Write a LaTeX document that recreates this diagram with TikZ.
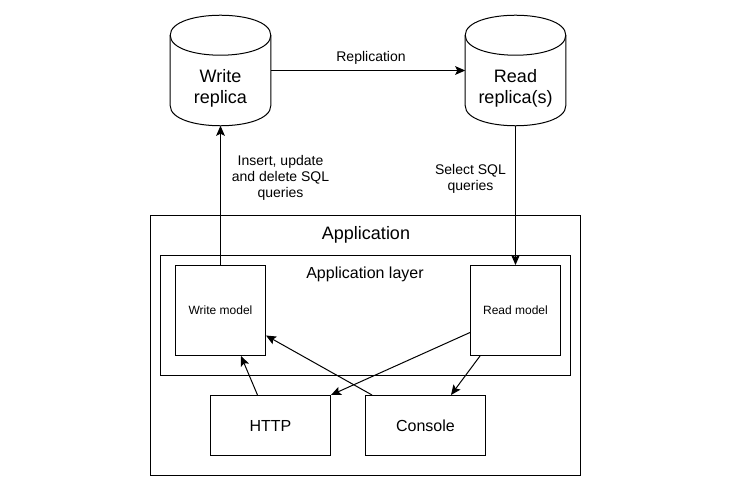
\documentclass[tikz,border=0pt]{standalone}
\usepackage{fontspec}
\setmainfont{Liberation Sans}
\usetikzlibrary{calc,positioning,arrows.meta}

\tikzset{
    box/.style={draw, rectangle, inner sep=0pt, line width=0.75pt, font=\fontsize{12}{14}\selectfont},
    replica/.style={rectangle, inner sep=0pt, minimum width=75pt, minimum height=82.5pt},
    replicatext/.style={align=center, inner sep=0pt, yshift=-13.5pt, font=\fontsize{13.5}{15.75}\selectfont},
    note/.style={align=center, inner sep=0pt, font=\fontsize{10.5}{12}\selectfont},
    link/.style={-{Stealth[length=7.5pt, width=6.5pt, inset=1.5pt]}, line width=0.75pt},
}

% outline of a replica, drawn round its node
\newcommand{\replicaoutline}[1]{
    \draw[line width=0.75pt] ($(#1.north west)+(0,20)$)
        .. controls ($(#1.north west)+(0,-6.67)$) and ($(#1.north east)+(0,-6.67)$) .. ($(#1.north east)+(0,20)$)
        -- ($(#1.south east)+(0,-20)$)
        .. controls ($(#1.south east)+(0,6.67)$) and ($(#1.south west)+(0,6.67)$) .. ($(#1.south west)+(0,-20)$)
        -- cycle;
    \draw[line width=0.75pt] ($(#1.north west)+(0,20)$)
        .. controls ($(#1.north west)+(0,46.67)$) and ($(#1.north east)+(0,46.67)$) .. ($(#1.north east)+(0,20)$);
}

\begin{document}
\begin{tikzpicture}[x=0.75pt, y=-0.75pt]

    \useasboundingbox (0,0) rectangle (731,491);

    % Containers
    \node[box, minimum width=322.5pt, minimum height=195pt] (application) at (365.5,345.5) {};
    \node[box, minimum width=307.5pt, minimum height=90pt] (layer) at (365.5,315.5) {};
    \node[font=\fontsize{13.5}{16}\selectfont, inner sep=0pt] (applicationtitle) at (366,234.5) {Application};
    \node[font=\fontsize{12}{14}\selectfont, inner sep=0pt] (layertitle) at (365,274.5) {Application layer};

    % Models
    \node[box, minimum size=67.5pt, font=\fontsize{9}{11}\selectfont] (writemodel) at (220.5,310.5) {Write model};
    \node[box, minimum size=67.5pt, font=\fontsize{9}{11}\selectfont] (readmodel) at (515.5,310.5) {Read model};

    % Entry points
    \node[box, minimum width=90pt, minimum height=45pt] (http) at (270.5,425.5) {HTTP};
    \node[box, minimum width=90pt, minimum height=45pt] (console) at (425.5,425.5) {Console};

    % Replicas
    \node[replica, label={[replicatext]center:Write\\replica}] (writereplica) at (220.5,70.5) {};
    \node[replica, label={[replicatext]center:Read\\replica(s)}] (readreplica) at (515.5,70.5) {};
    \replicaoutline{writereplica}
    \replicaoutline{readreplica}

    % Connectors
    \draw[link] (writereplica.east) -- (readreplica.west) node[note, midway, above=4pt, xshift=2.25pt] (replication) {Replication};
    \draw[link] (writemodel.north) -- (writereplica.south);
    \draw[link] (readreplica.south) -- (readmodel.north);
    \draw[link] ($(readmodel.west)+(0,22)$) -- (http.north east);
    \draw[link] ($(readmodel.south west)+(10,0)$) -- ($(console.north east)+(-35,0)$);
    \draw[link] ($(http.north)+(-13,0)$) -- ($(writemodel.south east)+(-25,0)$);
    \draw[link] ($(console.north west)+(7,0)$) -- ($(writemodel.east)+(0,25)$);

    % Labels
    \node[note] (writelabel) at (280.5,178) {Insert, update\\and delete SQL\\queries};
    \node[note] (readlabel) at (470.5,178.5) {Select SQL\\queries};

\end{tikzpicture}
\end{document}
